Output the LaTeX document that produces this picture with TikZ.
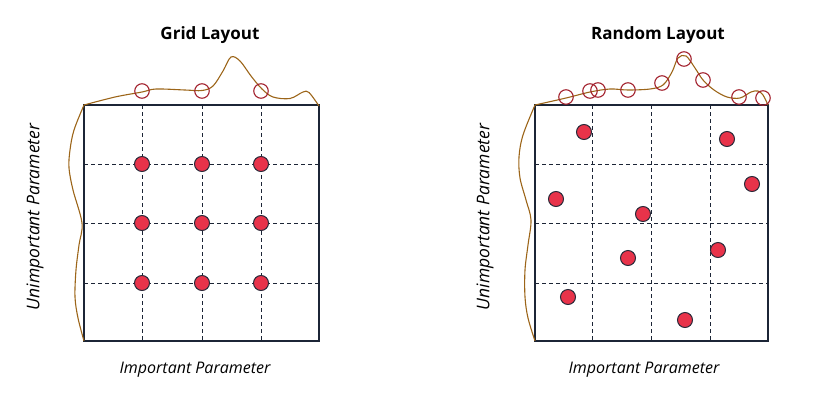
\documentclass[tikz,border=0pt]{standalone}
\usepackage{fontspec}
\setmainfont{Open Sans}
\usetikzlibrary{positioning}

\definecolor{navy}{HTML}{1C2536}
\definecolor{dotred}{HTML}{E8334A}
\definecolor{dotline}{HTML}{2A2A3A}
\definecolor{ringred}{HTML}{A3232F}
\definecolor{curvebrown}{HTML}{9C6519}

\begin{document}
\begin{tikzpicture}[
  x=1pt, y=-1pt,
  panel/.style={draw=navy, line width=1.3pt},
  gridline/.style={draw=navy, dash pattern=on 4pt off 3pt, line width=0.9pt},
  sample/.style={circle, draw=dotline, fill=dotred, line width=1pt,
                 minimum size=15pt, inner sep=0pt},
  proj/.style={circle, draw=ringred, line width=1.1pt,
               minimum size=14.5pt, inner sep=0pt},
  density/.style={draw=curvebrown, line width=1.1pt},
  title/.style={font=\fontsize{17}{20}\selectfont\bfseries},
  axislabel/.style={font=\fontsize{16}{19}\selectfont\itshape},
  sidelabel/.style={font=\fontsize{17.5}{20}\selectfont\itshape, rotate=90}
]
  \useasboundingbox (0,0) rectangle (815,405);

  % grid layout panel
  \coordinate (gTL) at (84,105);
  \coordinate (gBR) at (319,341);
  \foreach \x in {142,202,261} \draw[gridline] (\x,105) -- (\x,341);
  \foreach \y in {164,223,283} \draw[gridline] (84,\y) -- (319,\y);
  \draw[panel] (gTL) rectangle (gBR);

  \draw[density] plot[smooth, tension=0.55] coordinates {
    (84,105) (115,97) (142,92) (156,89) (185,90) (202,90.5) (213,86)
    (223,71) (231,57) (240,61) (251,76) (262,89) (273,97) (290,98.5)
    (303,92) (309,92.5) (319,106)};
  \draw[density] plot[smooth, tension=0.55] coordinates {
    (84,105) (74,130) (70,150) (69,168) (73,190) (82,223) (79,245)
    (76,270) (75,297) (78,318) (84,341)};

  \foreach \x [count=\i] in {142,202,261} {
    \node[proj] (gp\i) at (\x,91) {};
    \foreach \y [count=\j] in {164,223,283}
      \node[sample] (g\i\j) at (\x,\y) {};
  }

  \node[title] (gtitle) at (210,35) {Grid Layout};
  \node[axislabel] (gimp) at (195,370) {Important Parameter};
  \node[sidelabel] (gunimp) at (35,217) {Unimportant Parameter};

  % random layout panel
  \coordinate (rTL) at (535,105);
  \coordinate (rBR) at (768,341);
  \foreach \x in {592,651,710} \draw[gridline] (\x,105) -- (\x,341);
  \foreach \y in {164,223,283} \draw[gridline] (535,\y) -- (768,\y);
  \draw[panel] (rTL) rectangle (rBR);

  \draw[density] plot[smooth, tension=0.55] coordinates {
    (535,105) (566,98) (590,92) (610,89) (628,90) (650,89) (663,85)
    (672,72) (678,58) (686,56) (695,68) (703,80) (714,90) (727,97)
    (740,98) (751,92) (758,91) (763,95) (768,105)};
  \draw[density] plot[smooth, tension=0.55] coordinates {
    (535,105) (523,135) (519,157) (520,178) (526,200) (531,220)
    (528,245) (525,270) (525,297) (528,318) (535,341)};

  \foreach \x/\y [count=\i] in {566/97, 590/91, 598/90, 628/90, 662/83,
                                684/59, 703/80, 739/97, 763/98}
    \node[proj] (rp\i) at (\x,\y) {};

  \foreach \x/\y [count=\i] in {584/132, 727/139, 752/184, 556/199, 643/214,
                                628/258, 718/250, 568/297, 685/320}
    \node[sample] (r\i) at (\x,\y) {};

  \node[title] (rtitle) at (658,35) {Random Layout};
  \node[axislabel] (rimp) at (644,370) {Important Parameter};
  \node[sidelabel] (runimp) at (485,217) {Unimportant Parameter};
\end{tikzpicture}
\end{document}
